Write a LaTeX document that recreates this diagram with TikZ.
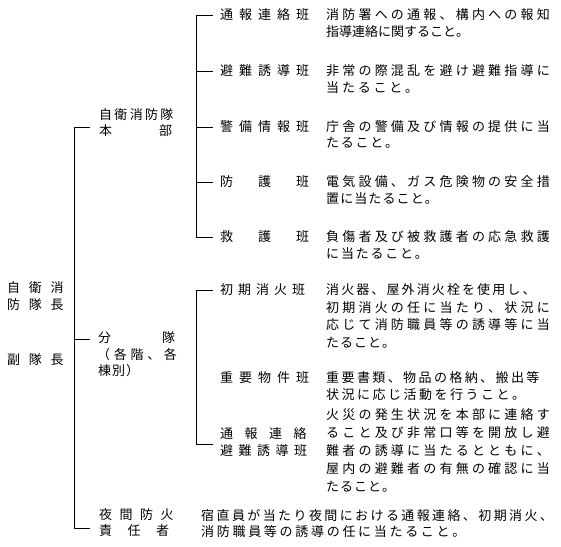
\documentclass[tikz,border=0pt]{standalone}
\usepackage{fontspec}
\newfontfamily\jp{Noto Sans CJK JP}
\newlength\chpitch
\newcommand\spc[2]{\setlength\chpitch{#1pt}\spcloop#2\relax}
\def\spcloop#1{\ifx#1\relax\else\makebox[\chpitch][l]{#1}\expandafter\spcloop\fi}
\begin{document}
\begin{tikzpicture}[x=1pt,y=-1pt,
  txt/.style={anchor=west,inner sep=0pt,font=\jp\fontsize{13}{15}\selectfont,text height=10.8pt,text depth=1.1pt},
  br/.style={line width=1pt,line cap=rect}]
\useasboundingbox[fill=white] (0,0) rectangle (561,546);
% left labels
\node[txt] (c1) at (7,288) {\spc{21.7}{自衛消}};
\node[txt] (c2) at (7,305) {\spc{21.7}{防隊長}};
\node[txt] (c3) at (7,360) {\spc{21.7}{副隊長}};
% second level
\node[txt] (h1) at (99,115) {\spc{15.3}{自衛消防隊}};
\node[txt] (h2) at (99,131) {\spc{20}{本　　部}};
\node[txt] (b1) at (98,338) {\spc{21.3}{分　　隊}};
\node[txt] (b2) at (97,355) {\spc{16.7}{（各階、各}};
\node[txt] (b3) at (98,371) {\spc{14}{棟別）}};
\node[txt] (n1) at (99,515) {\spc{20.5}{夜間防火}};
\node[txt] (n2) at (99,531) {\spc{28.5}{責任者}};
\node[txt] (nd1) at (201,516) {\spc{15.4}{宿直員が当たり夜間における通報連絡、初期消火、}};
\node[txt] (nd2) at (201,532) {\spc{15.7}{消防職員等の誘導の任に当たること。}};
% group 1
\node[txt] (g1) at (220,15) {\spc{19}{通報連絡班}};
\node[txt] (g2) at (220,71) {\spc{19}{避難誘導班}};
\node[txt] (g3) at (220,126.5) {\spc{19}{警備情報班}};
\node[txt] (g4) at (220,182) {\spc{38}{防護班}};
\node[txt] (g5) at (220,237) {\spc{38}{救護班}};
\node[txt] (d1a) at (326,15) {\spc{16.2}{消防署への通報、構内への報知}};
\node[txt] (d1b) at (326,32) {\spc{13}{指導連絡に関すること。}};
\node[txt] (d2a) at (326,71) {\spc{16.2}{非常の際混乱を避け避難指導に}};
\node[txt] (d2b) at (326,87.5) {\spc{15.8}{当たること。}};
\node[txt] (d3a) at (326,126.5) {\spc{16.2}{庁舎の警備及び情報の提供に当}};
\node[txt] (d3b) at (326,143) {\spc{14.75}{たること。}};
\node[txt] (d4a) at (326,182) {\spc{16.2}{電気設備、ガス危険物の安全措}};
\node[txt] (d4b) at (326,198.5) {\spc{14.1}{置に当たること。}};
\node[txt] (d5a) at (326,237) {\spc{16.2}{負傷者及び被救護者の応急救護}};
\node[txt] (d5b) at (326,253.5) {\spc{14.8}{に当たること。}};
% group 2
\node[txt] (k1) at (220,290) {\spc{18}{初期消火班}};
\node[txt] (e1a) at (326,290) {\spc{15.1}{消火器、屋外消火栓を使用し、}};
\node[txt] (e1b) at (326,307.5) {\spc{16.2}{初期消火の任に当たり、状況に}};
\node[txt] (e1c) at (326,325) {\spc{16.2}{応じて消防職員等の誘導等に当}};
\node[txt] (e1d) at (326,342.5) {\spc{14}{たること。}};
\node[txt] (k2) at (220,378) {\spc{19}{重要物件班}};
\node[txt] (e2a) at (326,378) {\spc{15.4}{重要書類、物品の格納、搬出等}};
\node[txt] (e2b) at (326,395) {\spc{15.5}{状況に応じ活動を行うこと。}};
\node[txt] (k3a) at (220,434) {\spc{24.5}{通報連絡}};
\node[txt] (k3b) at (220,451) {\spc{18.5}{避難誘導班}};
\node[txt] (e3a) at (326,415) {\spc{16.2}{火災の発生状況を本部に連絡す}};
\node[txt] (e3b) at (326,433) {\spc{16.2}{ること及び非常口等を開放し避}};
\node[txt] (e3c) at (326,451) {\spc{16.2}{難者の誘導に当たるとともに、}};
\node[txt] (e3d) at (326,469) {\spc{16.2}{屋内の避難者の有無の確認に当}};
\node[txt] (e3e) at (326,487) {\spc{14}{たること。}};
% bracket coordinates
\coordinate (m1) at (74,127); \coordinate (m1e) at (89,127);
\coordinate (m2) at (74,339); \coordinate (m2e) at (89,339);
\coordinate (m3) at (74,528); \coordinate (m3e) at (89,528);
\coordinate (p1) at (196,15);  \coordinate (p1e) at (212,15);
\coordinate (p2) at (196,71);  \coordinate (p2e) at (212,71);
\coordinate (p3) at (196,127); \coordinate (p3e) at (212,127);
\coordinate (p4) at (196,182); \coordinate (p4e) at (212,182);
\coordinate (p5) at (196,237); \coordinate (p5e) at (212,237);
\coordinate (q1) at (196,290); \coordinate (q1e) at (212,290);
\coordinate (q2) at (196,444); \coordinate (q2e) at (212,444);
\draw[br] (m1e) -- (m1) -- (m3) -- (m3e);
\draw[br] (m2) -- (m2e);
\draw[br] (p1e) -- (p1) -- (p5) -- (p5e);
\draw[br] (p2) -- (p2e);
\draw[br] (p3) -- (p3e);
\draw[br] (p4) -- (p4e);
\draw[br] (q1e) -- (q1) -- (q2) -- (q2e);
\end{tikzpicture}
\end{document}
